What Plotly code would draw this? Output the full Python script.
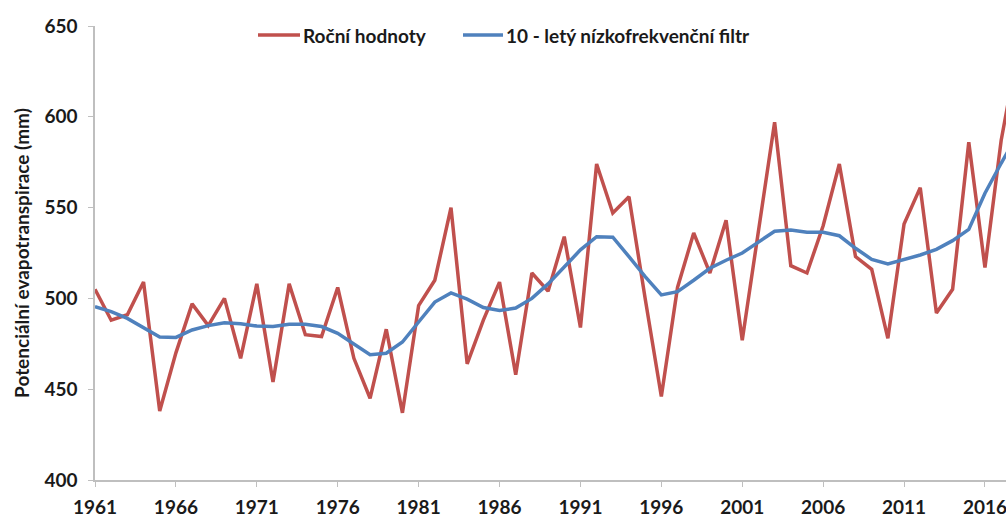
import plotly.graph_objects as go

years = list(range(1961, 2019))

annual = [505, 488, 491, 509, 438, 470, 497, 485, 500, 467,
          508, 454, 508, 480, 479, 506, 467, 445, 483, 437,
          496, 510, 550, 464, 488, 509, 458, 514, 504, 534,
          484, 574, 547, 556, 500, 446, 506, 536, 514, 543,
          477, 536, 597, 518, 514, 540, 574, 523, 516, 478,
          541, 561, 492, 505, 586, 517, 587, 635]

lowpass = [495.5, 492.7, 489, 483.7, 478.7, 478.5, 482.6, 485, 486.6, 486,
           484.8, 484.5, 485.7, 485.7, 484.5, 480.8, 475, 469, 469.8, 476,
           487, 498, 503, 499.6, 495, 493.3, 494.7, 500, 508, 517.5,
           526.7, 534, 533.7, 523, 512, 501.9, 503.7, 510, 516.6, 521,
           525, 531, 537, 537.7, 536.4, 536.4, 534.5, 527.6, 521.5, 519,
           521.5, 523.9, 527, 531.8, 538, 557.9, 574.4, 590]

xtick_vals = list(range(1961, 2017, 5))
ytick_vals = [400, 450, 500, 550, 600, 650]

name_annual = "Roční hodnoty"
name_low = "10 - letý nízkofrekvenční filtr"
ytitle = "Potenciální evapotranspirace (mm)"

RED = "#C0504D"
BLUE = "#4F81BD"
FONT = "Lato"
TXT = "#1a1a1a"

W, H = 1006, 518
ML, MR, MT, MB = 95, 0, 26, 38
PW, PH = W - ML - MR, H - MT - MB


def px(x):
    return (x - ML) / PW


def py(y):
    return (H - MB - y) / PH


fig = go.Figure()
fig.add_trace(go.Scatter(x=years, y=annual, mode="lines", name=name_annual,
                         line=dict(color=RED, width=3.5)))
fig.add_trace(go.Scatter(x=years, y=lowpass, mode="lines", name=name_low,
                         line=dict(color=BLUE, width=3.5)))

# legend drawn as in the reference (long line sample, text right after it)
legend_items = [(name_annual, RED, 258, 300), (name_low, BLUE, 463, 503)]
shapes, annotations = [], []
for name, col, x0, x1 in legend_items:
    shapes.append(dict(type="line", xref="paper", yref="paper",
                       x0=px(x0), x1=px(x1), y0=py(35), y1=py(35),
                       line=dict(color=col, width=3.5)))
    annotations.append(dict(text=name, xref="paper", yref="paper",
                            x=px(x1 + 1), y=py(35), xanchor="left", yanchor="middle",
                            showarrow=False,
                            font=dict(family=FONT, size=19, color=TXT, weight=700)))

fig.update_layout(
    width=W, height=H,
    margin=dict(l=ML, r=MR, t=MT, b=MB),
    paper_bgcolor="white", plot_bgcolor="white",
    font=dict(family=FONT, size=19, color=TXT, weight=700),
    showlegend=False,
    shapes=shapes, annotations=annotations,
)
fig.update_xaxes(range=[1961, 2017.3], tickmode="array", tickvals=xtick_vals,
                 showgrid=False, zeroline=False, showline=True, linecolor="#BFBFBF",
                 linewidth=1.5, ticks="outside", ticklen=5, tickcolor="#BFBFBF",
                 ticklabeloverflow="allow", ticklabelstandoff=4,
                 tickfont=dict(family=FONT, size=19, color=TXT, weight=700))
fig.update_yaxes(range=[400, 650], tickmode="array", tickvals=ytick_vals,
                 showgrid=False, zeroline=False, showline=True, linecolor="#BFBFBF",
                 linewidth=1.5, ticks="outside", ticklen=5, tickcolor="#BFBFBF",
                 ticklabelstandoff=7,
                 tickfont=dict(family=FONT, size=19, color=TXT, weight=700),
                 title=dict(text=ytitle, standoff=10,
                            font=dict(family=FONT, size=19, color=TXT, weight=700)))

fig.write_html("out.html", config={"displayModeBar": False},
               post_script="document.body.style.margin='0';document.body.style.overflow='hidden';")
